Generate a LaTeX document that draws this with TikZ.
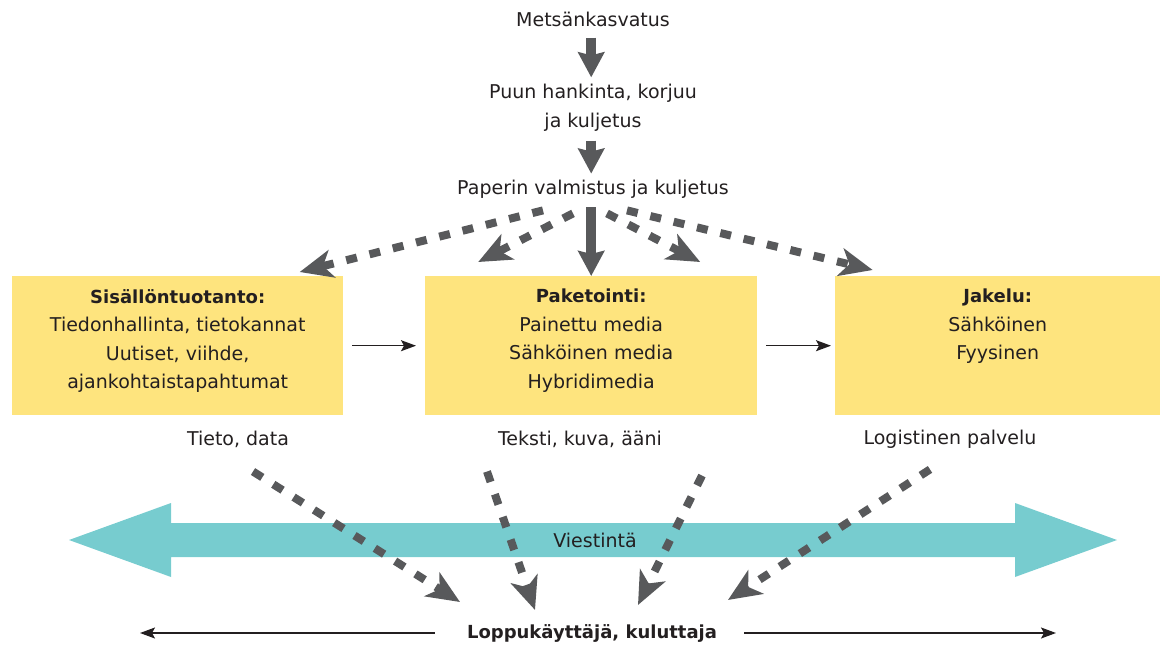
\documentclass[tikz,border=0pt]{standalone}
\usepackage{fontspec}
\setmainfont{DejaVu Sans}
\usetikzlibrary{arrows.meta,calc}
\definecolor{boxyellow}{HTML}{FEE47E}
\definecolor{vteal}{HTML}{77CCCF}
\definecolor{agray}{HTML}{58595B}
\definecolor{tdark}{HTML}{231F20}
\newcommand{\regf}{\fontsize{19}{28.5}\selectfont}
\newcommand{\boldf}{\fontsize{18}{28.5}\selectfont\bfseries}
\begin{document}
\begin{tikzpicture}[x=1pt,y=-1pt,
  txt/.style={inner sep=0pt,text=tdark,font=\regf,align=center},
  ybox/.style={fill=boxyellow,inner sep=0pt,anchor=north west,minimum height=139pt},
  bigarr/.style={draw=agray,line width=9.5pt,-{Stealth[length=25pt,width=26pt,inset=3pt]}},
  dasharr/.style={draw=agray,line width=8pt,dash pattern=on 11pt off 13pt,-{Stealth[length=33pt,width=28pt,inset=9pt]}},
  thinarr/.style={draw=tdark,line width=1.3pt,-{Stealth[length=15pt,width=11pt,inset=3pt]}}]
\useasboundingbox (0,0) rectangle (1160,645);

% top chain
\node[txt] (metsa) at (593,19) {Metsänkasvatus};
\node[txt] (puun) at (593,108) {Puun hankinta, korjuu\\ja kuljetus};
\node[txt] (paperi) at (593,189) {Paperin valmistus ja kuljetus};

% boxes
\node[ybox,minimum width=331pt] (box1) at (12,276) {};
\node[ybox,minimum width=332pt] (box2) at (425,276) {};
\node[ybox,minimum width=325pt] (box3) at (835,276) {};

\node[txt,anchor=north] (t1) at ($(box1.north)+(0,13)$) {{\boldf Sisällöntuotanto:}\\Tiedonhallinta, tietokannat\\Uutiset, viihde,\\ajankohtaistapahtumat};
\node[txt,anchor=north] (t2) at ($(box2.north)+(0,13)$) {{\boldf Paketointi:}\\Painettu media\\Sähköinen media\\Hybridimedia};
\node[txt,anchor=north] (t3) at ($(box3.north)+(0,13)$) {{\boldf Jakelu:}\\Sähköinen\\Fyysinen};

% labels below boxes
\node[txt] (tieto) at (238,439) {Tieto, data};
\node[txt] (teksti) at (580,439) {Teksti, kuva, ääni};
\node[txt] (logist) at (950,439) {Logistinen palvelu};

% big teal double arrow
\fill[vteal] (69,540) -- (171,503) -- (171,523) -- (1015,523) -- (1015,503) -- (1117,540)
  -- (1015,577) -- (1015,557) -- (171,557) -- (171,577) -- cycle;
\node[txt] (viest) at (595,540) {Viestintä};

% consumer
\node[txt,font=\boldf] (loppu) at (592,633) {Loppukäyttäjä, kuluttaja};
\coordinate (lend) at (140,633);
\coordinate (rend) at (1056,633);

% thick solid arrows
\draw[bigarr] ($(metsa.south -| box2.north)+(0,11)$) -- ($(puun.north -| box2.north)+(0,-7)$);
\draw[bigarr] ($(puun.south -| box2.north)+(0,9)$) -- ($(paperi.north -| box2.north)+(0,-6)$);
\draw[bigarr] ($(paperi.south -| box2.north)+(0,9)$) -- (box2.north);

% dashed arrows from paper making
\draw[dasharr] ($(paperi.south)+(-50,12)$) -- ($(box1.north)+(122,-4)$);
\draw[dasharr] ($(paperi.south)+(-20,15)$) -- ($(box2.north)+(-113,-14)$);
\draw[dasharr] ($(paperi.south)+(14,15)$) -- ($(box2.north)+(109,-14)$);
\draw[dasharr] ($(paperi.south)+(34,12)$) -- ($(box3.north)+(-125,-6)$);

% thin arrows between boxes
\draw[thinarr,shorten <=9pt,shorten >=9pt] (box1.east) -- (box2.west);
\draw[thinarr,shorten <=9pt,shorten >=4pt] (box2.east) -- (box3.west);

% dashed arrows to consumer
\draw[dasharr] ($(tieto.south)+(15,24)$) -- ($(loppu.center)+(-132,-31)$);
\draw[dasharr] ($(teksti.south)+(-93,24)$) -- ($(loppu.center)+(-57,-23)$);
\draw[dasharr] ($(teksti.south)+(122,28)$) -- ($(loppu.center)+(46,-28)$);
\draw[dasharr] ($(logist.south)+(-20,21)$) -- ($(loppu.center)+(136,-33)$);

% bottom thin arrows
\draw[thinarr] ($(loppu.west)+(-32,0)$) -- (lend);
\draw[thinarr] ($(loppu.east)+(27,0)$) -- (rend);
\end{tikzpicture}
\end{document}
